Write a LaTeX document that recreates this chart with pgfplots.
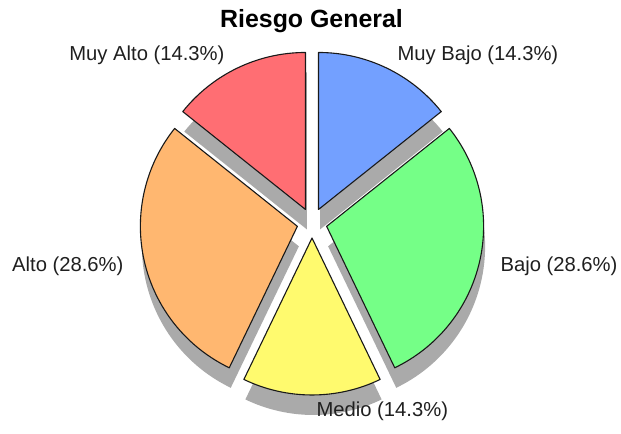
\documentclass[border=0pt]{standalone}
\usepackage{pgfplots}
\pgfplotsset{compat=1.18}
\usepackage{pgfplotstable}
\usepackage{fontspec}
\setmainfont{Liberation Sans}

\definecolor{cMB}{HTML}{73A0FF}
\definecolor{cB}{HTML}{75FF87}
\definecolor{cM}{HTML}{FFFA6E}
\definecolor{cA}{HTML}{FFB770}
\definecolor{cMA}{HTML}{FF6E73}
\definecolor{pieshadow}{HTML}{AAAAAA}

% slices clockwise from 12 o'clock: Muy Bajo, Bajo, Medio, Alto, Muy Alto
\pgfplotstableread{
value col
14.3 cMB
28.6 cB
14.3 cM
28.6 cA
14.3 cMA
}\piedata

\def\piecx{312}
\def\piecy{211}
\def\pieR{157}
\def\pieoff{15}
\def\shx{1.5}
\def\shy{-20}

\gdef\pietotal{0}
\foreach \i in {0,...,4}{%
  \pgfplotstablegetelem{\i}{value}\of\piedata
  \pgfmathsetmacro\tmp{\pietotal+\pgfplotsretval}%
  \xdef\pietotal{\tmp}%
}

\gdef\startang{90}
\gdef\slicecmds{}
\gdef\shadowcmds{}
\foreach \i in {0,...,4}{%
  \pgfplotstablegetelem{\i}{value}\of\piedata \let\pval\pgfplotsretval
  \pgfplotstablegetelem{\i}{col}\of\piedata \let\pcol\pgfplotsretval
  \pgfmathsetmacro\sweep{360*\pval/\pietotal}%
  \pgfmathsetmacro\endang{\startang-\sweep}%
  \pgfmathsetmacro\midang{(\startang+\endang)/2}%
  \pgfmathsetmacro\ax{\piecx+\pieoff*cos(\midang)}%
  \pgfmathsetmacro\ay{\piecy+\pieoff*sin(\midang)}%
  \pgfmathsetmacro\bx{\ax+\pieR*cos(\startang)}%
  \pgfmathsetmacro\by{\ay+\pieR*sin(\startang)}%
  \pgfmathsetmacro\sax{\ax+\shx}%
  \pgfmathsetmacro\say{\ay+\shy}%
  \pgfmathsetmacro\sbx{\bx+\shx}%
  \pgfmathsetmacro\sby{\by+\shy}%
  \xdef\shadowcmds{\unexpanded\expandafter{\shadowcmds}\noexpand\fill[pieshadow] (axis cs:\sax,\say) -- (axis cs:\sbx,\sby) arc[start angle=\startang,end angle=\endang,radius=\pieR bp] -- cycle;}%
  \xdef\slicecmds{\unexpanded\expandafter{\slicecmds}\noexpand\filldraw[fill=\pcol,draw=black!90,line width=1.1bp,line join=round] (axis cs:\ax,\ay) -- (axis cs:\bx,\by) arc[start angle=\startang,end angle=\endang,radius=\pieR bp] -- cycle;}%
  \xdef\startang{\endang}%
}

\begin{document}
\begin{tikzpicture}
\begin{axis}[x=1bp,y=1bp,xmin=0,xmax=621,ymin=0,ymax=434,
  hide axis,clip=false]
\shadowcmds
\slicecmds
\node[anchor=base,font=\bfseries\fontsize{25}{29}\selectfont] at (axis cs:311.5,406) {Riesgo General};
\node[anchor=base east,font=\fontsize{20.3}{24}\selectfont,text=black!88] at (axis cs:228,373) {Muy Alto (14.3\%)};
\node[anchor=base west,font=\fontsize{20.3}{24}\selectfont,text=black!88] at (axis cs:394,373) {Muy Bajo (14.3\%)};
\node[anchor=base east,font=\fontsize{20.3}{24}\selectfont,text=black!88] at (axis cs:127,162) {Alto (28.6\%)};
\node[anchor=base west,font=\fontsize{20.3}{24}\selectfont,text=black!88] at (axis cs:497,162) {Bajo (28.6\%)};
\node[anchor=base west,font=\fontsize{20.3}{24}\selectfont,text=black!88] at (axis cs:313,17) {Medio (14.3\%)};
\end{axis}
\pgfresetboundingbox
\path (current axis.south west) rectangle (current axis.north east);
\end{tikzpicture}
\end{document}
